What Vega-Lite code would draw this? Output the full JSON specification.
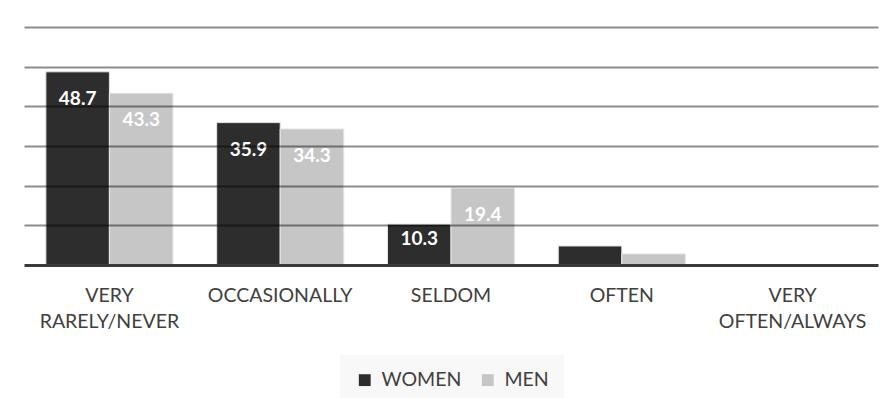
{
  "$schema": "https://vega.github.io/schema/vega-lite/v6.json",
  "autosize": "none",
  "width": 854,
  "height": 238,
  "padding": {"left": 24, "top": 27, "right": 10, "bottom": 133},
  "background": "white",
  "config": {
    "view": {"stroke": null},
    "font": "Lato",
    "axis": {"labelFont": "Lato", "titleFont": "Lato"},
    "legend": {"labelFont": "Lato"}
  },
  "data": {
    "values": [
      {"freq": "VERY RARELY/NEVER", "sex": "WOMEN", "value": 48.7},
      {"freq": "VERY RARELY/NEVER", "sex": "MEN", "value": 43.3},
      {"freq": "OCCASIONALLY", "sex": "WOMEN", "value": 35.9},
      {"freq": "OCCASIONALLY", "sex": "MEN", "value": 34.3},
      {"freq": "SELDOM", "sex": "WOMEN", "value": 10.3},
      {"freq": "SELDOM", "sex": "MEN", "value": 19.4},
      {"freq": "OFTEN", "sex": "WOMEN", "value": 4.8},
      {"freq": "OFTEN", "sex": "MEN", "value": 2.8},
      {"freq": "VERY OFTEN/ALWAYS", "sex": "WOMEN", "value": 0},
      {"freq": "VERY OFTEN/ALWAYS", "sex": "MEN", "value": 0}
    ]
  },
  "encoding": {
    "x": {
      "field": "freq",
      "type": "nominal",
      "sort": null,
      "scale": {"paddingInner": 0.256, "paddingOuter": 0.128},
      "axis": {
        "title": null,
        "labelAngle": 0,
        "labelExpr": "split(datum.value, ' ')",
        "labelFontSize": 19.5,
        "labelColor": "#404040",
        "labelLineHeight": 26,
        "labelPadding": 21,
        "labelBaseline": "top",
        "ticks": false,
        "domainColor": "#3a3a3a",
        "domainWidth": 3,
        "zindex": 2
      }
    },
    "xOffset": {"field": "sex", "type": "nominal", "sort": ["WOMEN", "MEN"], "scale": {"paddingInner": 0}},
    "y": {
      "field": "value",
      "type": "quantitative",
      "scale": {"domain": [0, 60]},
      "axis": {
        "title": null,
        "values": [10, 20, 30, 40, 50, 60],
        "labels": false,
        "ticks": false,
        "domain": false,
        "grid": true,
        "gridColor": "black",
        "gridOpacity": 0.45,
        "gridWidth": 2,
        "zindex": 1
      }
    }
  },
  "layer": [
    {
      "mark": {"type": "bar", "stroke": "#e6e6e6", "strokeWidth": 1},
      "encoding": {
        "color": {
          "field": "sex",
          "type": "nominal",
          "sort": ["WOMEN", "MEN"],
          "scale": {"domain": ["WOMEN", "MEN"], "range": ["#2d2d2d", "#c6c6c6"]},
          "legend": {
            "title": null,
            "orient": "none",
            "direction": "horizontal",
            "legendX": 316,
            "legendY": 328,
            "symbolType": "square",
            "symbolSize": 140,
            "symbolStrokeWidth": 0,
            "labelFontSize": 19.5,
            "labelColor": "#404040",
            "columnPadding": 16,
            "labelOffset": 7,
            "padding": 15,
            "fillColor": "#f8f8f8",
            "strokeColor": null
          }
        }
      }
    },
    {
      "transform": [{"filter": "datum.value >= 15"}],
      "mark": {"type": "text", "baseline": "middle", "dy": 27, "color": "white", "fontWeight": "bold", "fontSize": 19},
      "encoding": {"text": {"field": "value", "type": "quantitative", "format": ".1f"}}
    },
    {
      "transform": [{"filter": "datum.value >= 8 && datum.value < 15"}],
      "mark": {"type": "text", "baseline": "middle", "dy": 15, "color": "white", "fontWeight": "bold", "fontSize": 19},
      "encoding": {"text": {"field": "value", "type": "quantitative", "format": ".1f"}}
    }
  ]
}
